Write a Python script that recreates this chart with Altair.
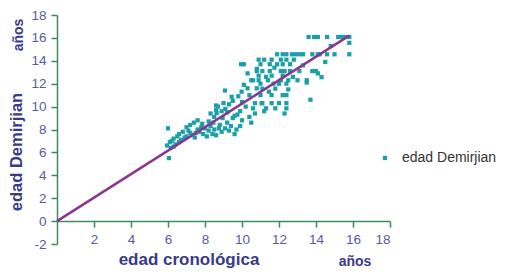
import altair as alt
import pandas as pd

# Scatter data: chronological age (x) vs Demirjian age (y), in years
edad_cronologica = [
    6.0, 6.05, 5.95, 6.1, 6.2, 6.3, 6.4, 6.5, 6.6, 6.7, 6.8, 6.9, 6.3, 6.6, 6.15,
    7.0, 7.1, 7.2, 7.3, 7.4, 7.5, 7.6, 7.7, 7.8, 7.9, 7.6, 8.0, 7.2, 7.45, 7.0, 7.85,
    8.1, 8.2, 8.3, 8.4, 8.5, 8.3, 8.6, 8.7, 8.8, 8.9, 8.5, 8.6, 8.6, 8.63, 8.9, 8.2, 8.75, 8.45, 8.95,
    9.0, 9.1, 9.2, 9.3, 9.4, 9.5, 9.6, 9.6, 9.7, 9.8, 9.9, 10.0, 9.3, 9.44, 9.08, 9.98, 9.5, 9.08, 9.9, 9.95, 9.75, 9.2,
    10.0, 10.1, 10.3, 10.4, 10.4, 10.5, 10.6, 10.6, 10.7, 10.8, 10.8, 10.8, 10.9, 10.9, 10.9, 11.0, 11.0, 11.0, 10.2, 10.5, 10.3, 10.7, 10.1,
    11.06, 11.1, 11.1, 11.1, 11.2, 11.2, 11.3, 11.4, 11.5, 11.5, 11.6, 11.6, 11.6, 11.6, 11.7, 11.8, 11.8, 11.9, 11.9, 11.3, 11.45, 11.75,
    12.0, 12.0, 12.1, 12.1, 12.1, 12.2, 12.2, 12.2, 12.2, 12.3, 12.3, 12.4, 12.4, 12.4, 12.4, 12.4, 12.4, 12.5, 12.6, 12.6, 12.7, 12.8, 12.9, 12.5, 12.75,
    13.0, 13.1, 13.1, 13.3, 13.5, 13.5, 13.6, 13.7, 13.8, 13.8, 13.9, 14.0, 14.1, 14.1, 14.1, 14.2, 14.3, 14.6, 14.6, 15.0, 15.2, 15.4, 15.6, 15.8, 15.8, 15.8, 13.3, 14.5, 14.8,
]
edad_demirjian = [
    8.1, 5.5, 6.6, 6.9, 7.0, 7.2, 6.7, 7.4, 7.6, 7.1, 7.8, 7.3, 6.5, 6.9, 6.4,
    8.2, 7.9, 8.4, 7.5, 8.6, 7.7, 8.0, 7.8, 8.2, 7.6, 8.8, 8.1, 7.7, 7.3, 7.4, 8.5,
    7.4, 7.9, 8.3, 7.6, 8.0, 9.4, 9.7, 10.0, 8.4, 7.8, 9.1, 7.5, 10.1, 9.43, 9.6, 8.7, 8.1, 8.6, 9.0,
    10.3, 9.8, 8.6, 7.9, 8.3, 10.5, 9.2, 7.6, 8.0, 10.9, 9.6, 8.8, 10.2, 10.86, 11.4, 11.3, 9.0, 8.1, 8.3, 13.7, 9.3, 9.5,
    10.4, 13.7, 11.6, 11.0, 9.1, 12.3, 12.3, 9.85, 10.3, 13.1, 11.6, 13.3, 14.1, 12.7, 12.3, 12.0, 11.0, 13.7, 10.0, 8.6, 12.9, 9.4, 11.9,
    10.3, 13.1, 11.57, 10.3, 14.1, 9.6, 9.85, 12.3, 13.7, 13.1, 14.1, 12.7, 11.0, 10.3, 12.0, 11.57, 9.85, 14.57, 13.7, 12.6, 11.3, 13.4,
    10.3, 12.0, 14.1, 13.1, 12.3, 14.57, 13.7, 12.7, 11.0, 13.1, 9.4, 14.57, 14.1, 12.0, 11.0, 10.3, 9.85, 12.3, 13.7, 13.1, 14.57, 14.1, 14.57, 11.5, 12.6,
    12.3, 14.57, 13.1, 14.57, 12.3, 12.1, 16.08, 10.6, 14.57, 13.1, 16.08, 13.1, 16.08, 14.57, 12.9, 14.57, 12.57, 16.08, 14.57, 14.57, 16.08, 16.08, 16.08, 16.08, 15.57, 14.57, 13.6, 13.9, 15.3,
]
serie = "edad Demirjian"

# Fitted line endpoints
linea_x = [0.0, 15.8]
linea_y = [0.0, 16.2]

y_ticks = [-2, 0, 2, 4, 6, 8, 10, 12, 14, 16, 18]
x_ticks = [2, 4, 6, 8, 10, 12, 14, 16, 18]

W, H = 333, 229
AXIS_GREEN = "#3d8a5c"
LABEL_COL = "#5a5aa6"
TITLE_COL = "#3a3a8a"
TEAL = "#1ba0aa"
PURPLE = "#8b3590"
FONT = "Liberation Sans"

pts = pd.DataFrame({"x": edad_cronologica, "y": edad_demirjian, "serie": serie})
lin = pd.DataFrame({"x": linea_x, "y": linea_y})

xscale = alt.Scale(domain=[0, 18], nice=False, zero=False)
yscale = alt.Scale(domain=[-2, 18], nice=False, zero=False)

common = dict(grid=False, title=None, domainColor=AXIS_GREEN, tickColor=AXIS_GREEN,
              tickSize=6, domainWidth=1.5, tickWidth=1.5, labelColor=LABEL_COL,
              labelFontSize=13.5, labelFont=FONT, labelPadding=5, labelOverlap=False,
              labelExpr="replace(datum.label, '\u2212', '-')")
xaxis = alt.Axis(values=x_ticks, tickCount=len(x_ticks), offset=-H / 10, **common)
yaxis = alt.Axis(values=y_ticks, tickCount=len(y_ticks), **common)

points = alt.Chart(pts).mark_square(size=18, opacity=1).encode(
    x=alt.X("x:Q", scale=xscale, axis=xaxis),
    y=alt.Y("y:Q", scale=yscale, axis=yaxis),
    color=alt.Color("serie:N", scale=alt.Scale(range=[TEAL]),
                    legend=alt.Legend(title=None, orient="none", legendX=321, legendY=136,
                                      symbolType="square", symbolSize=18, labelFontSize=14,
                                      labelFont=FONT, labelColor="#333333", labelOffset=10)),
)

line = alt.Chart(lin).mark_line(color=PURPLE, strokeWidth=2.5).encode(
    x=alt.X("x:Q", scale=xscale),
    y=alt.Y("y:Q", scale=yscale),
)

def label(text, x, y, size, angle=0):
    return alt.Chart(pd.DataFrame({"t": [text]})).mark_text(
        font=FONT, fontWeight="bold", fontSize=size, color=TITLE_COL,
        angle=angle, align="center", baseline="middle",
    ).encode(text="t:N", x=alt.value(x), y=alt.value(y))

titles = (
    label("edad Demirjian", -40, 137, 16.5, 270)
    + label("años", -38, 20, 14, 270)
    + label("edad cronológica", 132, 245, 17)
    + label("años", 298, 247, 14)
)

chart = (points + line + titles).properties(
    width=W, height=H,
    autosize=alt.AutoSizeParams(type="none"),
    padding={"left": 49, "top": 7, "right": 130, "bottom": 30},
).configure_view(stroke=None)

chart.save("out.html", embed_options={"renderer": "svg", "actions": False})
